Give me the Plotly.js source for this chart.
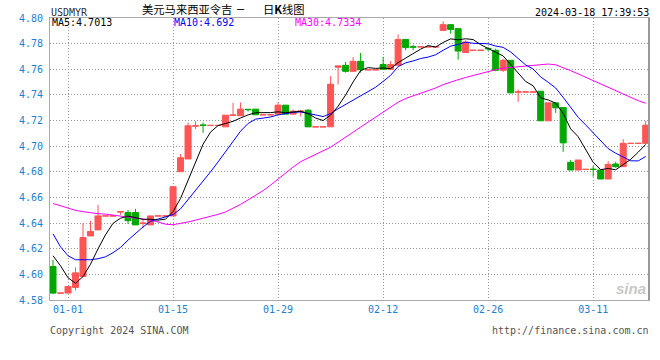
<!DOCTYPE html>
<html><head><meta charset="utf-8">
<script src="https://cdn.plot.ly/plotly-3.0.1.min.js"></script>
<style>html,body{margin:0;padding:0;background:#fff}#chart{width:660px;height:360px}</style>
</head><body><div id="chart"></div>
<script>
// ---------------- data ----------------
const dates = [
'2023-12-30','2023-12-31',
'2024-01-01','2024-01-02','2024-01-03','2024-01-04','2024-01-05','2024-01-06','2024-01-07','2024-01-08','2024-01-09','2024-01-10',
'2024-01-11','2024-01-12','2024-01-13','2024-01-14','2024-01-15','2024-01-16','2024-01-17','2024-01-18','2024-01-19','2024-01-20',
'2024-01-21','2024-01-22','2024-01-23','2024-01-24','2024-01-25','2024-01-26','2024-01-27','2024-01-28','2024-01-29','2024-01-30','2024-01-31',
'2024-02-01','2024-02-02','2024-02-03','2024-02-04','2024-02-05','2024-02-06','2024-02-07','2024-02-08','2024-02-09','2024-02-10',
'2024-02-11','2024-02-12','2024-02-13','2024-02-14','2024-02-15','2024-02-16','2024-02-17','2024-02-18','2024-02-19','2024-02-20',
'2024-02-21','2024-02-22','2024-02-23','2024-02-24','2024-02-25','2024-02-26','2024-02-27','2024-02-28','2024-02-29',
'2024-03-01','2024-03-02','2024-03-03','2024-03-04','2024-03-05','2024-03-06','2024-03-07','2024-03-08','2024-03-09','2024-03-10',
'2024-03-11','2024-03-12','2024-03-13','2024-03-14','2024-03-15','2024-03-16','2024-03-17','2024-03-18'];

const open = [
4.6061,4.5854,4.5854,4.5898,4.5984,4.6300,4.6347,4.6456,4.6456,4.6486,
4.6482,4.6482,4.6397,4.6386,4.6456,4.6456,4.6456,4.6801,4.6900,4.7156,
4.7166,4.7162,4.7162,4.7151,4.7240,4.7237,4.7288,4.7289,4.7245,4.7245,
4.7250,4.7320,4.7250,4.7271,4.7281,4.7151,4.7151,4.7151,4.7616,4.7631,
4.7584,4.7662,4.7596,4.7596,4.7637,4.7600,4.7631,4.7833,4.7776,4.7775,
4.7775,4.7775,4.7903,4.7948,4.7917,4.7730,4.7748,4.7748,4.7763,4.7748,
4.7592,4.7670,4.7421,4.7423,4.7423,4.7429,4.7198,4.7338,4.7302,4.6874,
4.6814,4.6819,4.6821,4.6814,4.6744,4.6861,4.6840,4.7022,4.7022,4.7022];

const high = [
4.6114,4.5854,4.5906,4.6054,4.6399,4.6417,4.6542,4.6456,4.6456,4.6494,
4.6503,4.6511,4.6425,4.6456,4.6456,4.6456,4.6684,4.6939,4.7185,4.7195,
4.7185,4.7162,4.7162,4.7242,4.7338,4.7341,4.7288,4.7289,4.7245,4.7245,
4.7341,4.7320,4.7286,4.7281,4.7289,4.7151,4.7151,4.7546,4.7626,4.7657,
4.7696,4.7727,4.7596,4.7596,4.7696,4.7665,4.7872,4.7833,4.7792,4.7775,
4.7775,4.7775,4.7974,4.7948,4.7917,4.7826,4.7748,4.7748,4.7774,4.7760,
4.7683,4.7670,4.7442,4.7423,4.7423,4.7429,4.7338,4.7338,4.7302,4.6892,
4.6892,4.6819,4.6845,4.6814,4.6884,4.6879,4.7055,4.7022,4.7022,4.7198];

const low = [
4.5845,4.5854,4.5854,4.5875,4.5981,4.6300,4.6347,4.6456,4.6456,4.6464,
4.6394,4.6386,4.6360,4.6386,4.6456,4.6456,4.6456,4.6801,4.6900,4.7133,
4.7104,4.7162,4.7162,4.7151,4.7240,4.7237,4.7270,4.7245,4.7245,4.7245,
4.7250,4.7250,4.7250,4.7232,4.7151,4.7151,4.7151,4.7151,4.7481,4.7574,
4.7584,4.7574,4.7596,4.7596,4.7600,4.7600,4.7631,4.7748,4.7748,4.7775,
4.7775,4.7775,4.7903,4.7878,4.7675,4.7730,4.7748,4.7748,4.7742,4.7585,
4.7579,4.7416,4.7346,4.7423,4.7423,4.7198,4.7198,4.7260,4.6956,4.6814,
4.6814,4.6819,4.6762,4.6744,4.6744,4.6832,4.6840,4.7022,4.7022,4.7022];

const close = [
4.5854,4.5854,4.5906,4.6012,4.6287,4.6334,4.6456,4.6456,4.6456,4.6489,
4.6419,4.6386,4.6400,4.6456,4.6456,4.6456,4.6684,4.6910,4.7159,4.7159,
4.7162,4.7162,4.7162,4.7242,4.7243,4.7289,4.7285,4.7245,4.7245,4.7245,
4.7320,4.7250,4.7273,4.7274,4.7151,4.7151,4.7151,4.7483,4.7626,4.7584,
4.7662,4.7596,4.7596,4.7596,4.7600,4.7637,4.7833,4.7769,4.7773,4.7775,
4.7775,4.7775,4.7948,4.7911,4.7742,4.7812,4.7748,4.7748,4.7760,4.7592,
4.7670,4.7416,4.7424,4.7423,4.7423,4.7198,4.7338,4.7299,4.7026,4.6814,
4.6892,4.6819,4.6818,4.6744,4.6858,4.6840,4.7022,4.7022,4.7022,4.7164];

const ma5 = [
4.6145,4.6067,4.5974,4.5930,4.5983,4.6079,4.6199,4.6309,4.6398,4.6438,
4.6455,4.6441,4.6430,4.6430,4.6423,4.6431,4.6490,4.6592,4.6733,4.6874,
4.7015,4.7110,4.7161,4.7177,4.7194,4.7220,4.7244,4.7261,4.7261,4.7262,
4.7268,4.7261,4.7267,4.7272,4.7254,4.7220,4.7200,4.7242,4.7312,4.7399,
4.7501,4.7590,4.7613,4.7607,4.7610,4.7605,4.7652,4.7687,4.7722,4.7757,
4.7785,4.7773,4.7809,4.7837,4.7830,4.7838,4.7832,4.7792,4.7762,4.7732,
4.7704,4.7637,4.7572,4.7505,4.7471,4.7377,4.7361,4.7336,4.7257,4.7135,
4.7074,4.6970,4.6874,4.6817,4.6826,4.6816,4.6856,4.6897,4.6953,4.7014];

const ma10 = [
4.6316,4.6215,4.6145,4.6114,4.6114,4.6114,4.6122,4.6137,4.6169,4.6210,
4.6267,4.6320,4.6370,4.6414,4.6431,4.6443,4.6466,4.6511,4.6582,4.6649,
4.6723,4.6800,4.6877,4.6955,4.7034,4.7117,4.7177,4.7211,4.7219,4.7228,
4.7244,4.7253,4.7264,4.7267,4.7258,4.7244,4.7231,4.7254,4.7292,4.7326,
4.7361,4.7395,4.7427,4.7460,4.7505,4.7553,4.7621,4.7650,4.7665,4.7684,
4.7695,4.7713,4.7748,4.7780,4.7794,4.7811,4.7803,4.7801,4.7799,4.7781,
4.7771,4.7735,4.7682,4.7634,4.7602,4.7540,4.7499,4.7454,4.7381,4.7303,
4.7225,4.7166,4.7105,4.7037,4.6981,4.6945,4.6913,4.6886,4.6885,4.6920];

const ma30 = [
4.6553,4.6534,4.6514,4.6499,4.6489,4.6479,4.6473,4.6470,4.6462,4.6452,
4.6445,4.6438,4.6431,4.6423,4.6409,4.6391,4.6387,4.6397,4.6409,4.6423,
4.6437,4.6452,4.6468,4.6487,4.6514,4.6546,4.6581,4.6616,4.6653,4.6696,
4.6745,4.6791,4.6837,4.6879,4.6907,4.6935,4.6958,4.6992,4.7031,4.7068,
4.7109,4.7149,4.7189,4.7227,4.7265,4.7305,4.7343,4.7372,4.7392,4.7413,
4.7433,4.7454,4.7480,4.7502,4.7519,4.7536,4.7552,4.7568,4.7585,4.7597,
4.7609,4.7614,4.7619,4.7624,4.7633,4.7635,4.7641,4.7635,4.7615,4.7589,
4.7564,4.7538,4.7512,4.7483,4.7459,4.7432,4.7405,4.7380,4.7355,4.7335];

const maNames = ['MA5', 'MA10', 'MA30'];
const maLastText = ['4.7013', '4.692', '4.7334'];

const tickDates = ['2024-01-01','2024-01-15','2024-01-29','2024-02-12','2024-02-26','2024-03-11'];
const tickLabels = ['01-01','01-15','01-29','02-12','02-26','03-11'];

const symbolName = 'USDMYR';
const titleMain = '美元马来西亚令吉';
const titleSub = '日<b>K</b>线图';
const stamp = '2024-03-18 17:39:53';
const copyright = 'Copyright 2024 SINA.COM';
const siteUrl = 'http://finance.sina.com.cn';

// ---------------- styling ----------------
const RED = '#ff5555', GREEN = '#00a800', AXIS_BLUE = '#1e80d0';
const MONO = 'DejaVu Sans Mono, monospace';
const CJK = 'Noto Sans CJK SC';
const L = 50, R = 649, T = 18, B = 300, W = 660, H = 360;
const px = x => (x - L) / (R - L);
const py = y => (B - y) / (B - T);

// split candles by direction (Sina draws close>=open in red)
function pick(cond) {
  const o = {x: [], open: [], high: [], low: [], close: []};
  for (let i = 0; i < dates.length; i++) {
    if (cond(open[i], close[i])) {
      o.x.push(dates[i]); o.open.push(open[i]); o.high.push(high[i]);
      o.low.push(low[i]); o.close.push(close[i]);
    }
  }
  return o;
}
function candle(d, col) {
  return Object.assign({
    type: 'candlestick', whiskerwidth: 0, hoverinfo: 'skip', showlegend: false,
    increasing: {line: {color: col, width: 1}, fillcolor: col},
    decreasing: {line: {color: col, width: 1}, fillcolor: col}
  }, d);
}
const up = pick((o, c) => c >= o);
const dn = pick((o, c) => c < o);

const traces = [
  candle(up, RED),
  candle(dn, GREEN),
  {type: 'scatter', mode: 'lines', x: dates, y: ma30, line: {color: '#ff00ff', width: 1}, hoverinfo: 'skip', showlegend: false},
  {type: 'scatter', mode: 'lines', x: dates, y: ma10, line: {color: '#0000ff', width: 1}, hoverinfo: 'skip', showlegend: false},
  {type: 'scatter', mode: 'lines', x: dates, y: ma5, line: {color: '#000000', width: 1}, hoverinfo: 'skip', showlegend: false}
];

function ann(text, x, y, anchor, color, size, family) {
  return {text, xref: 'paper', yref: 'paper', x: px(x), y: py(y), xanchor: anchor, yanchor: 'middle',
    showarrow: false, borderpad: 0, borderwidth: 0,
    font: {family: family || MONO, size: size || 10, color: color || '#000'}};
}

const maColors = ['#000000', '#0000ff', '#ff00ff'];
const maX = [52, 174, 295];
const annotations = [
  ann(titleMain, 141.7, 9.5, 'left', '#000', 11.3, CJK),
  ann('–', 241, 9.5, 'center', '#000', 12, MONO),
  ann(titleSub, 263, 9.5, 'left', '#000', 11.3, CJK),
  ann(symbolName, 51, 12, 'left', '#333', 10),
  ann(stamp, 649, 12, 'right', '#000', 10),
  ann(copyright, 50, 330, 'left', '#555', 10),
  ann(siteUrl, 649, 330, 'right', '#555', 10),
  ann('<i><b>sina</b></i>', 631, 288, 'center', '#c8c8c8', 15, 'Liberation Sans')
];
maNames.forEach((n, i) => annotations.push(ann(n + ':' + maLastText[i], maX[i], 23, 'left', maColors[i], 10)));

const layout = {
  width: W, height: H,
  margin: {l: L, r: W - R, t: T, b: H - B, pad: 0},
  paper_bgcolor: '#fff', plot_bgcolor: '#fff',
  showlegend: false,
  boxgap: 0.2, boxgroupgap: 0,
  xaxis: {
    type: 'date', range: ['2023-12-29 14:24', '2024-03-18 10:34'],
    tickvals: tickDates, ticktext: tickLabels, ticks: '',
    tickfont: {family: MONO, size: 10, color: AXIS_BLUE},
    showgrid: true, gridcolor: '#999', griddash: '1px,2px', gridwidth: 1,
    showline: true, linecolor: '#aaa', linewidth: 1, mirror: true,
    rangeslider: {visible: false}, fixedrange: true, zeroline: false
  },
  yaxis: {
    range: [4.58, 4.80], tick0: 4.58, dtick: 0.02, tickformat: '.2f', ticks: '',
    ticklabelstandoff: 4,
    tickfont: {family: MONO, size: 10, color: AXIS_BLUE},
    showgrid: true, gridcolor: '#999', griddash: '1px,2px', gridwidth: 1,
    showline: true, linecolor: '#aaa', linewidth: 1, mirror: true,
    zeroline: false, fixedrange: true
  },
  shapes: [
    {type: 'line', xref: 'paper', yref: 'paper', x0: 1, x1: 1, y0: 0, y1: 1, line: {color: '#999', width: 2}}
  ],
  annotations
};

Plotly.newPlot('chart', traces, layout, {displayModeBar: false, staticPlot: true});
</script>
</body></html>
